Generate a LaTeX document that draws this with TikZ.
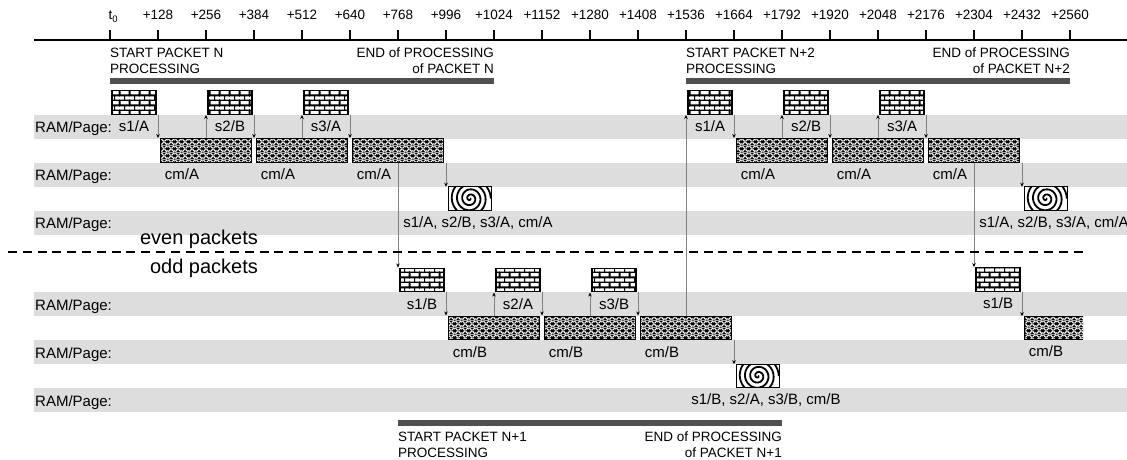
\documentclass[tikz,border=0pt]{standalone}
\usepackage{fontspec}
\setmainfont{Liberation Sans}
\usetikzlibrary{arrows.meta, patterns.meta}

\definecolor{bandgray}{RGB}{221,221,221}
\definecolor{bargray}{RGB}{80,80,80}

\tikzdeclarepattern{
    name=brickwall,
    type=colored,
    bottom left={(0pt,0pt)},
    top right={(10pt,9.6pt)},
    tile size={(10pt,9.6pt)},
    code={
        \fill[white] (0pt,0pt) rectangle (10pt,9.6pt);
        \draw[black, line width=1.3pt]
            (-1pt,0pt) -- (11pt,0pt) (-1pt,4.8pt) -- (11pt,4.8pt) (-1pt,9.6pt) -- (11pt,9.6pt)
            (0pt,0pt) -- (0pt,4.8pt) (10pt,0pt) -- (10pt,4.8pt) (5pt,4.8pt) -- (5pt,9.6pt);
    }
}

\tikzdeclarepattern{
    name=weave,
    type=colored,
    bottom left={(0pt,0pt)},
    top right={(7pt,7pt)},
    tile size={(7pt,7pt)},
    code={
        \fill[black] (0pt,0pt) rectangle (7pt,7pt);
        \draw[white, line width=1.25pt]
            (-7pt,-7pt) -- (14pt,14pt) (-7pt,0pt) -- (7pt,14pt) (0pt,-7pt) -- (14pt,7pt)
            (-7pt,14pt) -- (14pt,-7pt) (-7pt,7pt) -- (7pt,-7pt) (0pt,14pt) -- (14pt,0pt);
        \fill[black] (3.5pt,3.5pt) circle (0.75pt) (0pt,0pt) circle (0.75pt) (7pt,0pt) circle (0.75pt)
            (0pt,7pt) circle (0.75pt) (7pt,7pt) circle (0.75pt);
    }
}

\newcommand{\coil}[1]{%
    \begin{scope}
        \clip (#1.south west) rectangle (#1.north east);
        \draw[line width=1.8pt, shift={(#1.center)}, domain=0:1440, samples=300, variable=\t]
            plot ({\t/360*5.2*cos(\t)}, {\t/360*5.2*sin(\t)});
    \end{scope}
    \draw[line width=1.4pt] (#1.south west) rectangle (#1.north east);}

\begin{document}
\begin{tikzpicture}[x=1pt, y=-1pt,
        band/.style={fill=bandgray},
        tick/.style={line width=1.3pt},
        ticklbl/.style={anchor=base, inner sep=0pt, font=\fontsize{13.5}{16}\selectfont},
        note/.style={inner sep=0pt, font=\fontsize{13.5}{16}\selectfont},
        bar/.style={draw=bargray, line width=6pt},
        cell/.style={draw, line width=1.4pt, inner sep=0pt, minimum height=23.5pt},
        brick/.style={cell, pattern=brickwall, minimum width=44pt},
        weavebox/.style={cell, pattern=weave, minimum width=90.5pt},
        coilbox/.style={cell, fill=white, outer sep=0pt, minimum width=43pt},
        lbl/.style={anchor=base, inner sep=0pt, font=\fontsize{15}{18}\selectfont},
        flow/.style={draw=gray, line width=0.7pt, -{Stealth[length=4pt, width=3.5pt, color=black]}},
        part/.style={anchor=base, inner sep=0pt, font=\fontsize{20}{24}\selectfont}
    ]
    \useasboundingbox (0,0) rectangle (1127,460);

    \foreach \y [count=\i] in {114.5, 162.5, 210.5, 292, 340, 388} {
        \fill[band] (34,\y) rectangle (1127,\y+24);
        \node[lbl, anchor=base west] (ram\i) at (35,\y+18) {RAM/Page:};
    }

    \draw[line width=1.3pt] (34,40) -- (1127,40);
    \coordinate (k0) at (110,40);
    \draw[tick] (k0) -- ++(0,-10);
    \node[ticklbl, anchor=base west] (l0) at (108.5,20) {t\textsubscript{0}};
    \foreach \lab [count=\k] in {+128, +256, +384, +512, +640, +768, +996, +1024, +1152, +1280,
            +1408, +1536, +1664, +1792, +1920, +2048, +2176, +2304, +2432, +2560} {
        \coordinate (k\k) at ({110+48*\k},40);
        \draw[tick] (k\k) -- ++(0,-10);
        \node[ticklbl] (l\k) at ({110+48*\k},20) {\lab};
    }

    \coordinate (topbar) at (0,81);
    \coordinate (botbar) at (0,423);
    \draw[bar] (k0 |- topbar) -- (k8 |- topbar);
    \draw[bar] (k12 |- topbar) -- (k20 |- topbar);
    \draw[bar] (k6 |- botbar) -- (k14 |- botbar);
    \node[note, align=left, anchor=south west, yshift=7pt] (startn) at (k0 |- topbar) {START PACKET N\\PROCESSING};
    \node[note, align=right, anchor=south east, yshift=7pt] (endn) at (k8 |- topbar) {END of PROCESSING\\of PACKET N};
    \node[note, align=left, anchor=south west, yshift=7pt] (startm) at (k12 |- topbar) {START PACKET N+2\\PROCESSING};
    \node[note, align=right, anchor=south east, yshift=7pt] (endm) at (k20 |- topbar) {END of PROCESSING\\of PACKET N+2};
    \node[note, align=left, anchor=north west, yshift=-9pt] (starto) at (k6 |- botbar) {START PACKET N+1\\PROCESSING};
    \node[note, align=right, anchor=north east, yshift=-9pt] (endo) at (k14 |- botbar) {END of PROCESSING\\of PACKET N+1};

    \foreach \g/\dx/\dy/\pa/\pb in {n/0/0/A/B, o/288/177.5/B/A, m/576/0/A/B} {
        \foreach \i in {1,2,3} {
            \node[brick] (brick\g\i) at ({134+\dx+96*(\i-1)},{102.5+\dy}) {};
            \node[weavebox] (cross\g\i) at ({206+\dx+96*(\i-1)},{150.5+\dy}) {};
            \node[lbl, xshift=-24pt, yshift=-17pt] (cml\g\i) at (cross\g\i.south) {cm/\pa};
        }
        \node[lbl, yshift=-17pt] (sl\g1) at (brick\g1.south) {s1/\pa};
        \node[lbl, yshift=-17pt] (sl\g2) at (brick\g2.south) {s2/\pb};
        \node[lbl, yshift=-17pt] (sl\g3) at (brick\g3.south) {s3/\pa};
        \node[coilbox] (coil\g) at ({470+\dx},{198.5+\dy}) {};
        \coil{coil\g}
        \node[lbl, xshift=8pt, yshift=-17pt] (coill\g) at (coil\g.south) {s1/\pa, s2/\pb, s3/\pa, cm/\pa};
    }

    \node[brick] (brickp1) at (998,279.5) {};
    \node[lbl, yshift=-17pt] (slp1) at (brickp1.south) {s1/B};
    \node[cell, pattern=weave, draw=none, outer sep=0pt, minimum width=58.5pt] (crossp1) at (1053.75,328) {};
    \draw[line width=1.4pt] (crossp1.north east) -- (crossp1.north west) -- (crossp1.south west) -- (crossp1.south east);
    \node[lbl, xshift=24pt, yshift=-17pt] (cmlp1) at (k19 |- crossp1.south) {cm/B};

    \foreach \g/\off in {n/0, o/6, m/12} {
        \foreach \i [evaluate=\i as \kd using int(\off+2*\i-1)] in {1,2,3}
            \draw[flow] (k\kd |- brick\g\i.south) -- (k\kd |- cross\g\i.north);
        \foreach \i/\j [evaluate=\i as \ku using int(\off+2*\i)] in {1/2, 2/3}
            \draw[flow] (k\ku |- cross\g\i.north) -- (k\ku |- brick\g\j.south);
        \pgfmathtruncatemacro{\ks}{\off+7}
        \draw[flow] (k\ks |- cross\g3.south) -- (k\ks |- coil\g.north);
    }
    \draw[flow] (k6 |- crossn3.south) -- (k6 |- bricko1.north);
    \draw[flow] (k12 |- crosso3.north) -- (k12 |- brickm1.south);
    \draw[flow] (k18 |- crossm3.south) -- (k18 |- brickp1.north);
    \draw[flow] (k19 |- brickp1.south) -- (k19 |- crossp1.north);

    \coordinate (sepl) at (8,252);
    \coordinate (sepr) at (1083,252);
    \draw[line width=1.5pt, dash pattern=on 9pt off 5.8pt] (sepl) -- (sepr);
    \node[part] (even) at (199,244) {even packets};
    \node[part] (odd) at (204,273) {odd packets};
\end{tikzpicture}
\end{document}
